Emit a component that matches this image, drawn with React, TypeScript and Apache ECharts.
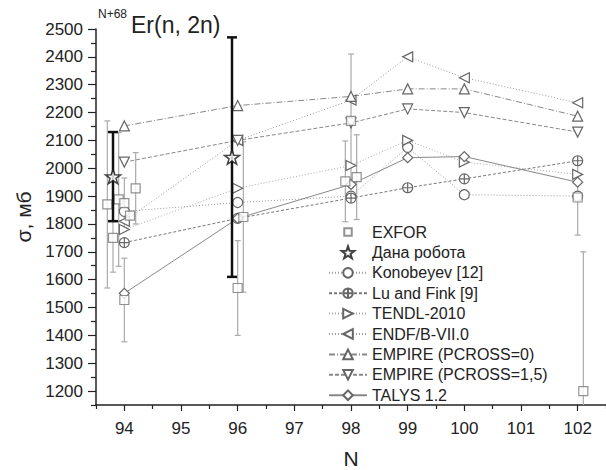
import React, { useEffect, useRef } from 'react';
import * as echarts from 'echarts';

// ---- data ----
const modelN = [94, 96, 98, 99, 100, 102];
const konobeyev = [1845, 1877, 1900, 2075, 1905, 1900];
const luFink = [1733, 1820, 1893, 1930, 1962, 2027];
const tendl = [1780, 1928, 2010, 2100, 2022, 1978];
const endf = [1810, 2100, 2245, 2400, 2325, 2235];
const empire0 = [2152, 2225, 2258, 2285, 2285, 2187];
const empire15 = [2022, 2100, 2163, 2213, 2200, 2130];
const talys = [1551, 1820, 1942, 2038, 2042, 1950];

const exforN = [93.7, 93.8, 93.9, 94.0, 94.1, 94.2, 94.0, 96.0, 96.1, 97.9, 98.0, 98.1, 102.0, 102.1];
const exforY = [1870, 1750, 1888, 1875, 1830, 1928, 1527, 1570, 1825, 1953, 2170, 1968, 1895, 1200];
const exforErr = [300, 123, 240, 90, 0, 128, 150, 170, 270, 145, 240, 152, 135, 500];

const thisN = [93.8, 95.9];
const thisY = [1970, 2040];
const thisErr = [160, 430];

const xMajor = [94, 95, 96, 97, 98, 99, 100, 101, 102];
const xMinor = [93.5, 94.5, 95.5, 96.5, 97.5, 98.5, 99.5, 100.5, 101.5, 102.5];
const yMajor = [1200, 1300, 1400, 1500, 1600, 1700, 1800, 1900, 2000, 2100, 2200, 2300, 2400, 2500];
const yMinor = [1150, 1250, 1350, 1450, 1550, 1650, 1750, 1850, 1950, 2050, 2150, 2250, 2350, 2450];

const FONT = 'Liberation Sans, Arial, sans-serif';

const SYM_RIGHT = 'path://M0,0L10,5L0,10Z';
const SYM_LEFT = 'path://M10,0L0,5L10,10Z';
const SYM_DOWN = 'path://M0,0L10,0L5,10Z';
const SYM_CPLUS = 'path://M10,5A5,5 0 1,1 0,5A5,5 0 1,1 10,5Z M0,5L10,5 M5,0L5,10';
const SYM_STAR =
  'path://M10,0L12.351,6.764L19.511,6.91L13.804,11.236L15.878,18.09L10,14L4.122,18.09L6.196,11.236L0.489,6.91L7.649,6.764Z';
// small square with invisible padding for the legend icon
const LEGEND_SQUARE = 'path://M-3,-3M0,0L10,0L10,10L0,10Z M13,13';

function lineSeries(name: string, values: number[], symbol: string, lineType: any, color: string, width = 1) {
  return {
    type: 'line',
    name,
    data: modelN.map((n, i) => [n, values[i]]),
    symbol,
    symbolSize: 10,
    symbolKeepAspect: true,
    showAllSymbol: true,
    lineStyle: { color, width, type: lineType },
    itemStyle: { color: '#fff', borderColor: '#666', borderWidth: 1.2 },
    z: 3,
  };
}

function errorBars(name: string, ns: number[], ys: number[], errs: number[], color: string, width: number, cap: number, z: number) {
  return {
    type: 'custom',
    name,
    z,
    clip: true,
    silent: true,
    data: ns.map((n, i) => [n, ys[i] - errs[i], ys[i] + errs[i]]),
    encode: { x: 0, y: [1, 2] },
    renderItem: (params: any, api: any) => {
      const x = api.value(0);
      const lo = api.value(1);
      const hi = api.value(2);
      if (hi === lo) return { type: 'group', children: [] };
      const p1 = api.coord([x, lo]);
      const p2 = api.coord([x, hi]);
      const style = { stroke: color, lineWidth: width, fill: null };
      return {
        type: 'group',
        children: [
          { type: 'line', shape: { x1: p1[0], y1: p1[1], x2: p2[0], y2: p2[1] }, style },
          { type: 'line', shape: { x1: p1[0] - cap, y1: p1[1], x2: p1[0] + cap, y2: p1[1] }, style },
          { type: 'line', shape: { x1: p2[0] - cap, y1: p2[1], x2: p2[0] + cap, y2: p2[1] }, style },
        ],
      };
    },
  };
}

export default function App() {
  const ref = useRef<HTMLDivElement>(null);
  useEffect(() => {
    if (!ref.current) return;
    const chart = echarts.init(ref.current, undefined, { renderer: 'svg' });
    const axisLabelStyle = { fontSize: 17, fontFamily: FONT, color: '#222' };
    const option: any = {
      animation: false,
      backgroundColor: '#fff',
      grid: { left: 96, right: 0, top: 29, bottom: 65, outerBoundsMode: 'none', containLabel: false },
      graphic: [
        { type: 'text', left: 98, top: 8, style: { text: 'N+68', fontSize: 12, fontFamily: FONT, fill: '#222' } },
        { type: 'text', left: 131, top: 13, style: { text: 'Er(n, 2n)', fontSize: 23, fontFamily: FONT, fill: '#222' } },
      ],
      xAxis: [
        {
          type: 'value',
          min: 93.5,
          max: 102.5,
          name: 'N',
          nameLocation: 'middle',
          nameGap: 43,
          nameTextStyle: { fontSize: 21, fontFamily: FONT, color: '#222' },
          axisLine: { show: true, lineStyle: { color: '#222', width: 1.5 } },
          axisTick: { show: true, customValues: xMajor, length: 6, lineStyle: { color: '#222', width: 1.2 } },
          axisLabel: { show: true, customValues: xMajor, margin: 15, formatter: (v: number) => String(v), ...axisLabelStyle },
          splitLine: { show: false },
        },
        {
          type: 'value',
          min: 93.5,
          max: 102.5,
          position: 'bottom',
          axisLine: { show: false },
          axisTick: { show: true, customValues: xMinor, length: 4, lineStyle: { color: '#222', width: 1.2 } },
          axisLabel: { show: false },
          splitLine: { show: false },
        },
      ],
      yAxis: [
        {
          type: 'value',
          min: 1150,
          max: 2500,
          name: 'σ, мб',
          nameLocation: 'middle',
          nameGap: 46,
          nameTextStyle: { fontSize: 21, fontFamily: FONT, color: '#222' },
          axisLine: { show: true, lineStyle: { color: '#222', width: 1.5 } },
          axisTick: { show: true, customValues: yMajor, length: 8, lineStyle: { color: '#222', width: 1.2 } },
          axisLabel: { show: true, customValues: yMajor, margin: 13, formatter: (v: number) => String(v), ...axisLabelStyle },
          splitLine: { show: false },
        },
        {
          type: 'value',
          min: 1150,
          max: 2500,
          position: 'left',
          axisLine: { show: false },
          axisTick: { show: true, customValues: yMinor, length: 5, lineStyle: { color: '#222', width: 1.2 } },
          axisLabel: { show: false },
          splitLine: { show: false },
        },
      ],
      legend: {
        orient: 'vertical',
        left: 328,
        top: 224,
        padding: 0,
        itemWidth: 38,
        itemHeight: 12,
        itemGap: 4.4,
        selectedMode: false,
        textStyle: { fontSize: 16, fontFamily: FONT, color: '#222', lineHeight: 16 },
        data: [
          { name: 'EXFOR', icon: LEGEND_SQUARE },
          'Дана робота',
          'Konobeyev [12]',
          'Lu and Fink [9]',
          'TENDL-2010',
          'ENDF/B-VII.0',
          'EMPIRE (PCROSS=0)',
          'EMPIRE (PCROSS=1,5)',
          'TALYS 1.2',
        ],
      },
      series: [
        errorBars('exforErr', exforN, exforY, exforErr, '#aaa', 1.2, 3, 1),
        lineSeries('Konobeyev [12]', konobeyev, 'circle', [1, 2], '#999'),
        lineSeries('Lu and Fink [9]', luFink, SYM_CPLUS, [3, 2], '#777'),
        lineSeries('TENDL-2010', tendl, SYM_RIGHT, [1, 2], '#aaa'),
        lineSeries('ENDF/B-VII.0', endf, SYM_LEFT, [1, 2], '#999'),
        lineSeries('EMPIRE (PCROSS=0)', empire0, 'triangle', [6, 2, 1, 2], '#888'),
        lineSeries('EMPIRE (PCROSS=1,5)', empire15, SYM_DOWN, [4, 2], '#888'),
        lineSeries('TALYS 1.2', talys, 'diamond', 'solid', '#888'),
        {
          type: 'scatter',
          name: 'EXFOR',
          data: exforN.map((n, i) => [n, exforY[i]]),
          symbol: 'rect',
          symbolSize: 9,
          itemStyle: { color: '#fff', borderColor: '#777', borderWidth: 1.2 },
          z: 4,
        },
        errorBars('thisErr', thisN, thisY, thisErr, '#111', 2.5, 5, 5),
        {
          type: 'scatter',
          name: 'Дана робота',
          data: thisN.map((n, i) => [n, thisY[i]]),
          symbol: SYM_STAR,
          symbolSize: 15,
          symbolKeepAspect: true,
          itemStyle: { color: '#fff', borderColor: '#111', borderWidth: 1.5 },
          z: 6,
        },
      ],
    };
    chart.setOption(option);
    return () => chart.dispose();
  }, []);
  return <div ref={ref} style={{ width: 606, height: 470, position: 'absolute', left: 0, top: 0 }} />;
}
